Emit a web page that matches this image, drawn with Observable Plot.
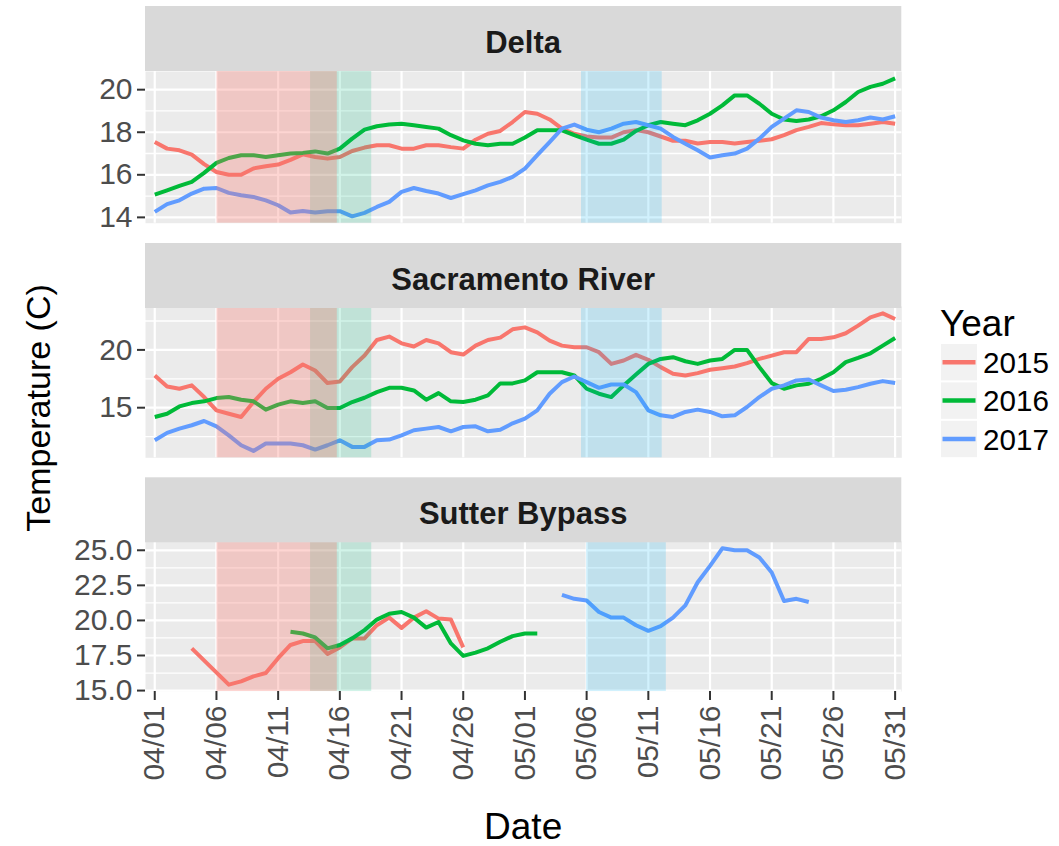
<!DOCTYPE html>
<html>
<head>
<meta charset="utf-8">
<script src="https://cdn.jsdelivr.net/npm/d3@7"></script>
<script src="https://cdn.jsdelivr.net/npm/@observablehq/plot@0.6"></script>
<style>
  body { margin: 0; background: #fff; }
  #chart { position: relative; width: 1059px; height: 846px; overflow: hidden; font-family: "Liberation Sans", Arial, sans-serif; }
  #chart svg { position: absolute; left: 0; }
</style>
</head>
<body>
<div id="chart"></div>
<script>
// Years and their line colours
const years = ["2015", "2016", "2017"];
const lineColors = ["#F8766D", "#00BA38", "#619CFF"];
const facets = ["Delta", "Sacramento River", "Sutter Bypass"];

// Daily mean temperature (C), 04/01 to 05/31
const seriesStart = "04/01";
const delta2015 = [17.54, 17.23, 17.15, 16.95, 16.5, 16.13, 16.0, 16.0, 16.3, 16.4,
  16.48, 16.7, 16.96, 16.84, 16.76, 16.84, 17.12, 17.28, 17.39, 17.39,
  17.23, 17.23, 17.39, 17.39, 17.3, 17.23, 17.65, 17.93, 18.06, 18.48,
  18.95, 18.87, 18.6, 18.17, 17.93, 17.8, 17.75, 17.75, 18.0, 18.1,
  18.0, 17.8, 17.6, 17.6, 17.47, 17.54, 17.54, 17.47, 17.54, 17.6,
  17.67, 17.86, 18.1, 18.25, 18.43, 18.37, 18.33, 18.33, 18.4, 18.48,
  18.4];
const delta2016 = [15.07, 15.27, 15.48, 15.67, 16.09, 16.56, 16.79, 16.92, 16.92, 16.84,
  16.92, 17.0, 17.03, 17.1, 17.0, 17.23, 17.7, 18.12, 18.28, 18.36,
  18.4, 18.33, 18.25, 18.17, 17.86, 17.62, 17.46, 17.39, 17.46, 17.46,
  17.75, 18.09, 18.09, 18.09, 17.86, 17.65, 17.46, 17.46, 17.65, 18.06,
  18.33, 18.48, 18.4, 18.33, 18.56, 18.87, 19.26, 19.73, 19.73, 19.34,
  18.87, 18.6, 18.53, 18.6, 18.75, 19.03, 19.42, 19.89, 20.13, 20.28,
  20.53];
const delta2017 = [14.26, 14.62, 14.8, 15.12, 15.35, 15.38, 15.15, 15.04, 14.96, 14.8,
  14.57, 14.23, 14.3, 14.23, 14.29, 14.29, 14.05, 14.21, 14.49, 14.73,
  15.2, 15.38, 15.24, 15.12, 14.91, 15.09, 15.27, 15.5, 15.67, 15.9,
  16.29, 16.92, 17.54, 18.17, 18.36, 18.12, 18.0, 18.17, 18.4, 18.48,
  18.33, 18.17, 17.78, 17.46, 17.15, 16.81, 16.92, 17.0, 17.23, 17.7,
  18.25, 18.64, 19.03, 18.95, 18.69, 18.56, 18.48, 18.56, 18.69, 18.6,
  18.75];

const sac2015 = [17.79, 16.84, 16.64, 16.93, 15.92, 14.77, 14.48, 14.20, 15.49, 16.64,
  17.50, 18.07, 18.74, 18.22, 17.13, 17.27, 18.51, 19.51, 20.86, 21.15,
  20.57, 20.29, 20.86, 20.57, 19.80, 19.60, 20.37, 20.86, 21.06, 21.78,
  21.95, 21.52, 20.80, 20.37, 20.23, 20.23, 19.80, 18.79, 19.08, 19.57,
  19.14, 18.51, 17.93, 17.79, 17.99, 18.28, 18.42, 18.56, 18.85, 19.22,
  19.51, 19.80, 19.80, 20.95, 20.95, 21.09, 21.44, 22.10, 22.82, 23.16,
  22.67];
const sac2016 = [14.20, 14.48, 15.11, 15.40, 15.55, 15.83, 15.92, 15.69, 15.55, 14.83,
  15.26, 15.55, 15.40, 15.55, 14.97, 14.97, 15.49, 15.86, 16.35, 16.72,
  16.72, 16.49, 15.69, 16.26, 15.55, 15.49, 15.69, 16.06, 17.10, 17.10,
  17.36, 18.07, 18.07, 18.07, 17.79, 16.64, 16.21, 15.92, 16.93, 17.87,
  18.79, 19.22, 19.37, 19.02, 18.79, 19.08, 19.22, 20.00, 20.00, 18.51,
  17.13, 16.64, 16.93, 17.07, 17.50, 18.07, 18.94, 19.31, 19.71, 20.37,
  21.03];
const sac2017 = [12.18, 12.82, 13.19, 13.48, 13.85, 13.39, 12.61, 11.75, 11.26, 11.90,
  11.90, 11.90, 11.75, 11.38, 11.75, 12.18, 11.61, 11.61, 12.18, 12.24,
  12.61, 13.05, 13.19, 13.33, 12.96, 13.33, 13.39, 12.96, 13.10, 13.65,
  14.05, 14.77, 16.21, 17.21, 17.70, 17.21, 16.72, 17.01, 17.01, 16.35,
  14.77, 14.34, 14.20, 14.63, 14.83, 14.63, 14.25, 14.34, 15.06, 15.92,
  16.64, 16.93, 17.36, 17.44, 16.93, 16.44, 16.55, 16.78, 17.07, 17.30,
  17.13];

// Sutter Bypass records are shorter; null = no reading that day
const sutter2015Start = "04/04";
const sutter2015 = [18.01, null, null, 15.42, 15.66, 16.01, 16.25, 17.31, 18.25, 18.53,
  18.53, 17.61, 18.08, 18.72, 18.72, 19.66, 20.2, 19.47, 20.2, 20.65,
  20.13, 20.06, 18.08];
const sutter2016Start = "04/12";
const sutter2016 = [19.19, 19.07, 18.79, 18.01, 18.25, 18.72, 19.31, 20.06, 20.48, 20.6,
  20.2, 19.49, 19.89, 18.36, 17.47, 17.71, 18.01, 18.48, 18.88, 19.07,
  19.07];
const sutter2017Start = "05/04";
const sutter2017 = [21.82, 21.54, 21.42, 20.6, 20.2, 20.2, 19.66, 19.26, 19.59, 20.2,
  21.07, 22.72, 23.89, 25.14, 25.0, 25.0, 24.48, 23.42, 21.38, 21.54,
  21.31];

// Highlighted periods [start, end] for each year
const period2015 = ["04/06 01:00", "04/15 19:00"];
const period2016 = ["04/13 15:00", "04/18 14:00"];
const period2017 = ["05/05 14:00", "05/12 03:00"];
const period2017Sutter = ["05/06 00:00", "05/12 11:00"];

// Axis ticks
const dateTicks = ["04/01", "04/06", "04/11", "04/16", "04/21", "04/26", "05/01",
  "05/06", "05/11", "05/16", "05/21", "05/26", "05/31"];
const deltaTicks = [14, 16, 18, 20];
const deltaMinor = [15, 17, 19];
const sacTicks = [15, 20];
const sacMinor = [12.5, 17.5, 22.5];
const sutterTicks = [15, 17.5, 20, 22.5, 25];
const sutterMinor = [16.25, 18.75, 21.25, 23.75];

// ---------------------------------------------------------------------------
const parseDay = s => d3.utcParse("%Y/%m/%d")("2000/" + s);
const parseTime = s => d3.utcParse("%Y/%m/%d %H:%M")("2000/" + s);

function series(facet, year, start, values) {
  const t0 = parseDay(start);
  return values
    .map((v, i) => ({facet, year, date: d3.utcDay.offset(t0, i), temp: v}))
    .filter(d => d.temp != null);
}
const period = (year, p) => ({year, start: parseTime(p[0]), end: parseTime(p[1])});

const xTicks = dateTicks.map(parseDay);
const xDomain = [d3.utcHour.offset(xTicks[0], -17.5), d3.utcHour.offset(xTicks[xTicks.length - 1], 13.7)];

const shadeStyle = {
  "2015": {fill: "#F8766D", fillOpacity: 0.31},
  "2016": {fill: "#00BF7D", fillOpacity: 0.18},
  "2017": {fill: "#00B0F6", fillOpacity: 0.18}
};

const panels = [
  {
    name: facets[0],
    rows: [...series(facets[0], years[0], seriesStart, delta2015),
           ...series(facets[0], years[1], seriesStart, delta2016),
           ...series(facets[0], years[2], seriesStart, delta2017)],
    major: deltaTicks, minor: deltaMinor, fmt: d3.format("d"),
    shades: [period(years[0], period2015), period(years[1], period2016), period(years[2], period2017)],
    top: 0, height: 231, marginTop: 71, marginBottom: 8.3, stripY: 6, xAxis: false
  },
  {
    name: facets[1],
    rows: [...series(facets[1], years[0], seriesStart, sac2015),
           ...series(facets[1], years[1], seriesStart, sac2016),
           ...series(facets[1], years[2], seriesStart, sac2017)],
    major: sacTicks, minor: sacMinor, fmt: d3.format("d"),
    shades: [period(years[0], period2015), period(years[1], period2016), period(years[2], period2017)],
    top: 236, height: 231, marginTop: 70, marginBottom: 9.7, stripY: 7, xAxis: false
  },
  {
    name: facets[2],
    rows: [...series(facets[2], years[0], sutter2015Start, sutter2015),
           ...series(facets[2], years[1], sutter2016Start, sutter2016),
           ...series(facets[2], years[2], sutter2017Start, sutter2017)],
    major: sutterTicks, minor: sutterMinor, fmt: d3.format(".1f"),
    shades: [period(years[0], period2015), period(years[1], period2016), period(years[2], period2017Sutter)],
    top: 470, height: 376, marginTop: 71, marginBottom: 155, stripY: 7.3, xAxis: true
  }
];

const chart = document.getElementById("chart");
const W = 1059, ML = 145, MR = 157.7;
const font = "'Liberation Sans', Arial, sans-serif";

for (const p of panels) {
  const [lo, hi] = d3.extent(p.rows, d => d.temp);
  const pad = (hi - lo) * 0.05;
  // shaded periods: 2016 first, then 2017, with 2015 on top
  const order = ["2016", "2017", "2015"];
  const shadeMarks = order.map(y =>
    Plot.rect(p.shades.filter(s => s.year === y), {x1: "start", x2: "end", ...shadeStyle[y]}));

  const svg = Plot.plot({
    width: W, height: p.height,
    marginLeft: ML, marginRight: MR, marginTop: p.marginTop, marginBottom: p.marginBottom,
    style: {background: "transparent", overflow: "visible", fontFamily: font},
    x: {type: "utc", domain: xDomain, axis: null},
    y: {domain: [lo - pad, hi + pad], axis: null},
    color: {domain: years, range: lineColors},
    marks: [
      Plot.frame({fill: "#EBEBEB", stroke: null}),
      Plot.gridY(p.minor, {stroke: "white", strokeOpacity: 1, strokeWidth: 1.3}),
      Plot.gridY(p.major, {stroke: "white", strokeOpacity: 1, strokeWidth: 2.2}),
      Plot.gridX(xTicks, {stroke: "white", strokeOpacity: 1, strokeWidth: 2.2}),
      Plot.line(p.rows, {x: "date", y: "temp", z: "year", stroke: "year",
        strokeWidth: 4, strokeLinejoin: "round", strokeLinecap: "butt"}),
      ...shadeMarks,
      Plot.axisY(p.major, {anchor: "left", tickSize: 8, tickPadding: 5, fontSize: 30,
        stroke: "#333333", strokeWidth: 2, fill: "#4D4D4D", tickFormat: p.fmt, label: null}),
      p.xAxis ? Plot.axisX(xTicks, {anchor: "bottom", tickSize: 9, tickPadding: 5, fontSize: 30,
        tickRotate: -90, stroke: "#333333", strokeWidth: 2, fill: "#4D4D4D",
        tickFormat: d3.utcFormat("%m/%d"), label: null}) : null
    ]
  });
  svg.style.top = p.top + "px";

  // facet strip
  const s = d3.select(svg);
  s.append("rect")
    .attr("x", ML).attr("y", p.stripY)
    .attr("width", W - ML - MR).attr("height", 65)
    .attr("fill", "#D9D9D9");
  s.append("text")
    .attr("x", ML + (W - ML - MR) / 2).attr("y", p.stripY + 47)
    .attr("text-anchor", "middle")
    .attr("font-family", font).attr("font-weight", "bold").attr("font-size", 31)
    .attr("fill", "#1A1A1A")
    .text(p.name);

  chart.appendChild(svg);
}

// axis titles and legend
const over = d3.select(chart).append("svg")
  .attr("width", W).attr("height", 846)
  .style("top", "0px").style("pointer-events", "none")
  .attr("font-family", font);

over.append("text")
  .attr("transform", "translate(50,408) rotate(-90)")
  .attr("text-anchor", "middle").attr("font-size", 34).attr("fill", "#000")
  .text("Temperature (C)");
over.append("text")
  .attr("x", ML + (W - ML - MR) / 2).attr("y", 839)
  .attr("text-anchor", "middle").attr("font-size", 37).attr("fill", "#000")
  .text("Date");

const legend = over.append("g");
legend.append("text").attr("x", 940).attr("y", 336).attr("font-size", 37).attr("fill", "#000").text("Year");
years.forEach((y, i) => {
  const top = 344 + i * 38.4;
  legend.append("rect").attr("x", 941).attr("y", top).attr("width", 36).attr("height", 36.4).attr("fill", "#F2F2F2");
  legend.append("line").attr("x1", 942.5).attr("x2", 975.5)
    .attr("y1", top + 18.2).attr("y2", top + 18.2)
    .attr("stroke", lineColors[i]).attr("stroke-width", 4.5);
  legend.append("text").attr("x", 983).attr("y", top + 18.2 + 10.6)
    .attr("font-size", 29.6).attr("fill", "#000").text(y);
});
</script>
</body>
</html>
